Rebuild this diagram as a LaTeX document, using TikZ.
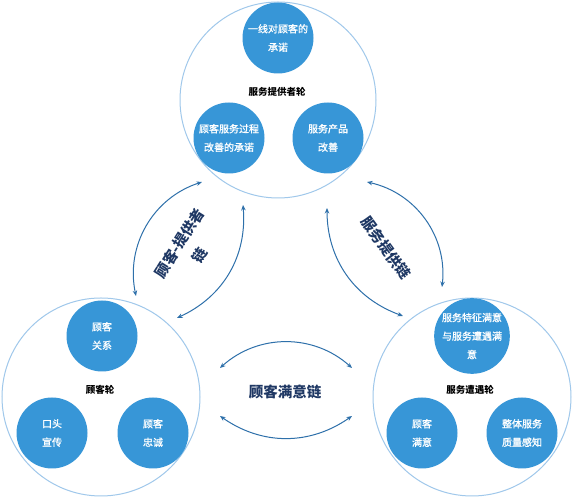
\documentclass[tikz,border=0pt]{standalone}
\usepackage{fontspec}
\setmainfont{Noto Sans CJK SC}
\newfontfamily\medfont[FakeBold=1.2]{Noto Sans CJK SC}
\usetikzlibrary{arrows.meta}
\definecolor{ringc}{RGB}{160,200,235}
\definecolor{discc}{RGB}{55,150,215}
\definecolor{arrc}{RGB}{46,112,170}
\definecolor{navy}{RGB}{31,56,100}
\begin{document}
\begin{tikzpicture}[x=1pt,y=1pt,
  ring/.style={circle, draw=ringc, line width=1pt, inner sep=0pt, minimum size=#1},
  disc/.style={circle, fill=discc, text=white, minimum size=71pt, inner sep=0pt,
    align=center, font=\medfont\fontsize{10}{18.5}\selectfont},
  wheellabel/.style={font=\bfseries\fontsize{9.5}{11}\selectfont, text=black},
  chainlabel/.style={text=navy, align=center, font=\bfseries\fontsize{14.5}{24}\selectfont},
  link/.style={draw=arrc, line width=1pt, {Stealth[length=5.5pt,width=4.5pt]}-{Stealth[length=5.5pt,width=4.5pt]}}
]
\useasboundingbox (0,0) rectangle (574,500);
\fill[white] (0,0) rectangle (574,500);

% outer wheels
\node[ring=196pt] (wtop) at (278,400) {};
\node[ring=198pt] (wleft) at (101,103) {};
\node[ring=198pt] (wright) at (472,103) {};

% top wheel
\node[disc] (t1) at (278,462) {一线对顾客的\\承诺};
\node[disc] (t2) at (229,362) {顾客服务过程\\改善的承诺};
\node[disc] (t3) at (328,362) {服务产品\\改善};
\node[wheellabel] (tl) at (277,408) {服务提供者轮};

% left wheel
\node[disc] (l1) at (102,164) {顾客\\关系};
\node[disc] (l2) at (52,67) {口头\\宣传};
\node[disc] (l3) at (153,67) {顾客\\忠诚};
\node[wheellabel] (ll) at (100,110) {顾客轮};

% right wheel
\node[disc] (r1) at (472,164) {服务特征满意\\与服务遭遇满\\意};
\node[disc] (r2) at (422,67) {顾客\\满意};
\node[disc] (r3) at (522,67) {整体服务\\质量感知};
\node[wheellabel] (rl) at (470,110) {服务遭遇轮};

% chain labels
\node[chainlabel, rotate=58] (cl) at (189.5,250.5) {顾客-提供者\\链};
\node[chainlabel, rotate=-54] (cr) at (386,252) {服务提供链};
\node[chainlabel] (cb) at (285,108) {顾客满意链};

% arrow end points
\coordinate (a1) at (136,204);
\coordinate (a2) at (202,318);
\coordinate (b1) at (177,182);
\coordinate (b2) at (243,295);
\coordinate (c1) at (367,318);
\coordinate (c2) at (442,213);
\coordinate (d1) at (327,292);
\coordinate (d2) at (403,184);
\coordinate (e1) at (220,132);
\coordinate (e2) at (352,132);
\coordinate (f1) at (220,84);
\coordinate (f2) at (352,84);

\draw[link] (a1) to[bend left=42] (a2);
\draw[link] (b1) to[bend right=35] (b2);
\draw[link] (c1) to[bend left=42] (c2);
\draw[link] (d1) to[bend right=35] (d2);
\draw[link] (e1) to[bend left=42] (e2);
\draw[link] (f1) to[bend right=35] (f2);
\end{tikzpicture}
\end{document}
